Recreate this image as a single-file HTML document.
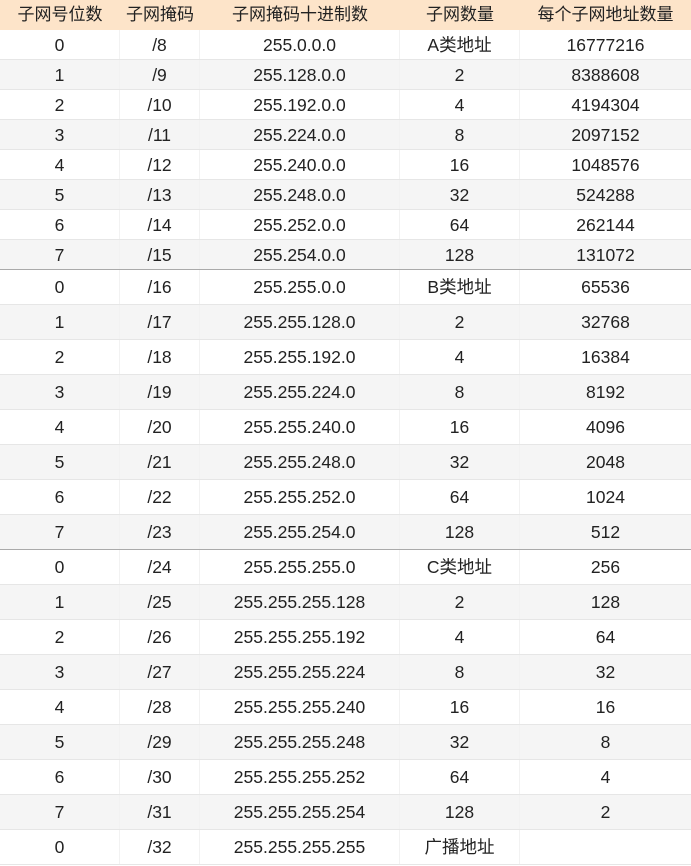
<!DOCTYPE html>
<html><head><meta charset="utf-8"><style>
body{margin:0;width:691px;height:866px;overflow:hidden;background:#fff;font-family:"Liberation Sans","Noto Sans CJK SC",sans-serif;color:#222;font-size:17.5px}
.r{position:absolute;left:0;width:691px;display:flex;border-bottom:1px solid #e6e6e6;box-sizing:border-box}
.r div{text-align:center;box-sizing:border-box;border-right:1px solid #f2f2f2;display:flex;align-items:center;justify-content:center}
.r div span{line-height:18px;display:inline-block;height:18px;overflow:visible;white-space:nowrap}
.r div:last-child{border-right:none}
.c0{width:120px}.c1{width:80px}.c2{width:200px}.c3{width:120px}.c4{width:171px}
.h{background:#fde4c9;border-bottom:none}.h div{border-right:none;font-size:17px}
.alt{background:#f5f5f5}
.sep{border-bottom:1px solid #aaa}
</style></head><body>
<div id="t"></div>
<script>
const headers=["子网号位数","子网掩码","子网掩码十进制数","子网数量","每个子网地址数量"];
const rows=[
["0","/8","255.0.0.0","A类地址","16777216"],["1","/9","255.128.0.0","2","8388608"],["2","/10","255.192.0.0","4","4194304"],["3","/11","255.224.0.0","8","2097152"],["4","/12","255.240.0.0","16","1048576"],["5","/13","255.248.0.0","32","524288"],["6","/14","255.252.0.0","64","262144"],["7","/15","255.254.0.0","128","131072"],
["0","/16","255.255.0.0","B类地址","65536"],["1","/17","255.255.128.0","2","32768"],["2","/18","255.255.192.0","4","16384"],["3","/19","255.255.224.0","8","8192"],["4","/20","255.255.240.0","16","4096"],["5","/21","255.255.248.0","32","2048"],["6","/22","255.255.252.0","64","1024"],["7","/23","255.255.254.0","128","512"],
["0","/24","255.255.255.0","C类地址","256"],["1","/25","255.255.255.128","2","128"],["2","/26","255.255.255.192","4","64"],["3","/27","255.255.255.224","8","32"],["4","/28","255.255.255.240","16","16"],["5","/29","255.255.255.248","32","8"],["6","/30","255.255.255.252","64","4"],["7","/31","255.255.255.254","128","2"],
["0","/32","255.255.255.255","广播地址",""]];
const t=document.getElementById('t');
function mk(cells,y,h,cls){const r=document.createElement('div');r.className='r '+cls;r.style.top=y+'px';r.style.height=h+'px';


cells.forEach((c,i)=>{const d=document.createElement('div');d.className='c'+i;


const s=document.createElement('span');s.textContent=c;d.appendChild(s);
r.appendChild(d);});t.appendChild(r);}
mk(headers,0,30,'h');
let y=30;
rows.forEach((row,i)=>{const h=i<8?30:35;let cls=(i%2==1)?'alt':'';if(i==7||i==15)cls+=' sep';mk(row,y,h,cls);y+=h;});
</script>
</body></html>
